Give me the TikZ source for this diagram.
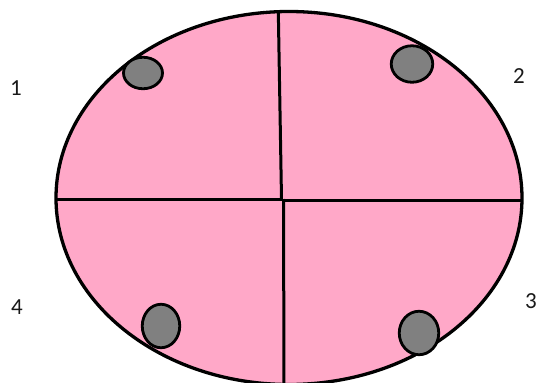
\documentclass[tikz,border=0pt]{standalone}
\usepackage{fontspec}
\setmainfont{Carlito}
\usetikzlibrary{shapes.geometric, positioning}
\definecolor{quadpink}{RGB}{255,168,200}
\definecolor{spotgray}{RGB}{128,128,128}

\begin{document}
\begin{tikzpicture}[x=1pt, y=-1pt,
  rim/.style={draw=black, line width=3.3pt, fill=quadpink},
  divider/.style={draw=black, line width=3pt},
  spot/.style={ellipse, draw=black, line width=2.8pt, fill=spotgray, inner sep=0pt},
  zonelabel/.style={font=\fontsize{23}{26}\selectfont, text=black!90, inner sep=0pt}
]
\useasboundingbox (0,0) rectangle (539,383);

% outer body
\path[rim] (289,198) ellipse [x radius=233pt, y radius=186.5pt];

% dividers
\draw[divider] (278.3,11) -- (281.5,199);
\draw[divider] (283.5,199) -- (284,384);
\draw[divider] (56,199) -- (283,199);
\draw[divider] (283,200.5) -- (522,200.5);

% spots
\node[spot, minimum width=39pt, minimum height=31.5pt] (spot1) at (143,73) {};
\node[spot, minimum width=41.5pt, minimum height=36.5pt] (spot2) at (412,64) {};
\node[spot, minimum width=39.5pt, minimum height=43.5pt] (spot3) at (419,333) {};
\node[spot, minimum width=37.5pt, minimum height=43.5pt] (spot4) at (161,326) {};

% labels
\node[zonelabel] (lab1) at (16,88) {1};
\node[zonelabel] (lab2) at (519,76) {2};
\node[zonelabel] (lab3) at (531,301) {3};
\node[zonelabel] (lab4) at (17,307) {4};
\end{tikzpicture}
\end{document}
